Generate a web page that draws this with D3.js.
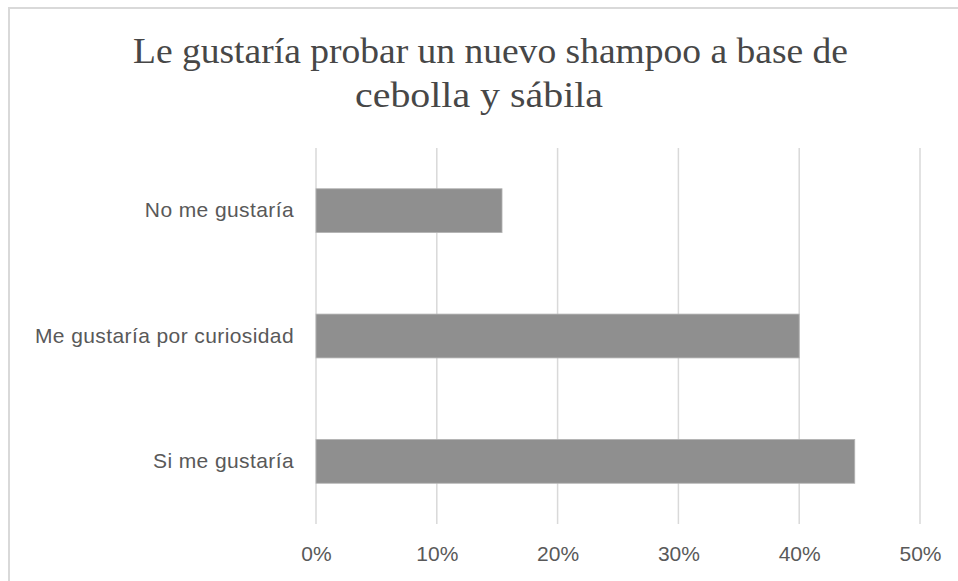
<!DOCTYPE html>
<html>
<head>
<meta charset="utf-8">
<script src="https://cdn.jsdelivr.net/npm/d3@7"></script>
<style>
  html, body { margin: 0; padding: 0; background: #fff; }
  svg { display: block; }
</style>
</head>
<body>
<svg id="chart" width="958" height="581"></svg>
<script>
// Survey answers, drawn bottom-to-top in this order
const categories = ["Si me gustaría", "Me gustaría por curiosidad", "No me gustaría"];
const shares = [44.6, 40.0, 15.4];            // percent of respondents
const tickValues = [0, 10, 20, 30, 40, 50];
const tickLabels = ["0%", "10%", "20%", "30%", "40%", "50%"];
const titleLines = ["Le gustaría probar un nuevo shampoo a base de", "cebolla y sábila"];

const svg = d3.select("#chart");
const W = 958, H = 581;
const plot = { left: 316, right: 920, top: 148, bottom: 524 };

// outer chart frame (runs off the right and bottom edges of the page)
svg.append("path")
  .attr("d", `M9,${H + 2} L9,8 L${W + 2},8`)
  .attr("fill", "none")
  .attr("stroke", "#d9d9d9")
  .attr("stroke-width", 2);

// two-line title, each line fitted to its set width
const titleLayout = [
  { cx: 490.5, y: 63, w: 715 },
  { cx: 479, y: 107, w: 248 }
];
svg.append("g")
  .selectAll("text")
  .data(titleLines)
  .join("text")
  .attr("x", (d, i) => titleLayout[i].cx - titleLayout[i].w / 2)
  .attr("y", (d, i) => titleLayout[i].y)
  .attr("textLength", (d, i) => titleLayout[i].w)
  .attr("lengthAdjust", "spacingAndGlyphs")
  .attr("font-family", "'Liberation Serif', 'Times New Roman', serif")
  .attr("font-size", 36)
  .attr("fill", "#474747")
  .text(d => d);

const x = d3.scaleLinear().domain([0, 50]).range([plot.left, plot.right]);
const y = d3.scaleBand()
  .domain(categories.slice().reverse())
  .range([plot.top, plot.bottom])
  .paddingInner(0.65)
  .paddingOuter(0.325);

// vertical gridlines
svg.append("g")
  .selectAll("line")
  .data(tickValues)
  .join("line")
  .attr("x1", d => x(d)).attr("x2", d => x(d))
  .attr("y1", plot.top).attr("y2", plot.bottom)
  .attr("stroke", "#d9d9d9")
  .attr("stroke-width", 1.5);

// bars
svg.append("g")
  .selectAll("rect")
  .data(categories.map((c, i) => ({ c, v: shares[i] })))
  .join("rect")
  .attr("x", x(0))
  .attr("y", d => y(d.c))
  .attr("width", d => x(d.v) - x(0))
  .attr("height", y.bandwidth())
  .attr("fill", "#8f8f8f")
  .attr("stroke", "#b5b5b5")
  .attr("stroke-width", 0.8);

// x axis labels
const xAxis = d3.axisBottom(x)
  .tickValues(tickValues)
  .tickFormat((d, i) => tickLabels[i])
  .tickSize(0)
  .tickPadding(0);
const gx = svg.append("g")
  .attr("transform", `translate(0, ${plot.bottom + 22})`)
  .call(xAxis);
gx.select(".domain").remove();
gx.selectAll("text")
  .attr("font-family", "'Liberation Sans', Arial, sans-serif")
  .attr("font-size", 21)
  .attr("fill", "#595959");

// y axis labels
const yAxis = d3.axisLeft(y).tickSize(0).tickPadding(22);
const gy = svg.append("g")
  .attr("transform", `translate(${plot.left}, 0)`)
  .call(yAxis);
gy.select(".domain").remove();
gy.selectAll("text")
  .attr("font-family", "'Liberation Sans', Arial, sans-serif")
  .attr("font-size", 21)
  .attr("letter-spacing", 0.4)
  .attr("fill", "#595959");
</script>
</body>
</html>
